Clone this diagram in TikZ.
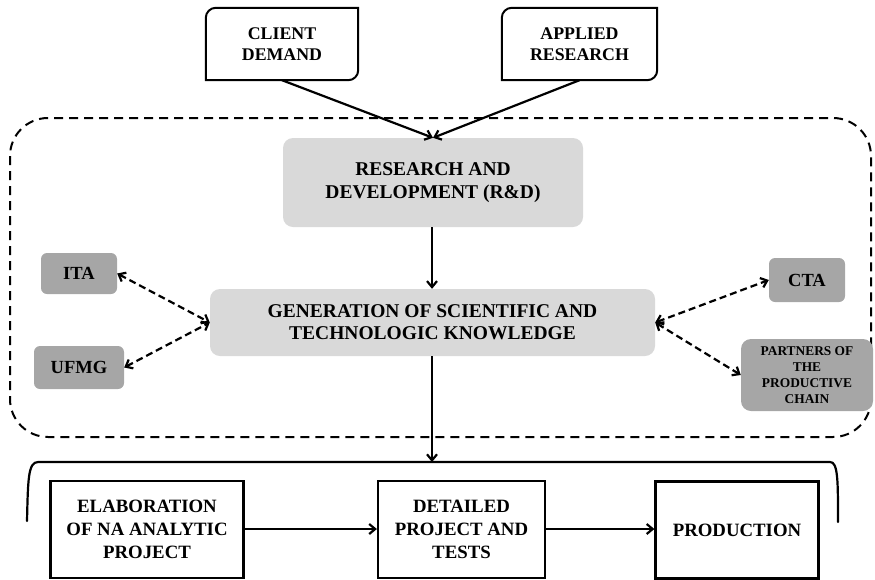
\documentclass[tikz,border=0pt]{standalone}
\usepackage{fontspec}
\setmainfont{Liberation Serif}
\usetikzlibrary{arrows.meta}
\definecolor{lightbox}{HTML}{D9D9D9}
\definecolor{darkbox}{HTML}{A6A6A6}
\begin{document}
\begin{tikzpicture}[x=1pt,y=-1pt,
  >={Straight Barb[length=6pt,width=10pt]},
  topbox/.style={minimum height=72pt,inner sep=0pt,align=center,
    font=\bfseries\fontsize{17.8}{21.5}\selectfont},
  mainbox/.style={fill=lightbox,rounded corners=10pt,inner sep=0pt,align=center,
    font=\bfseries\fontsize{19.5}{23.5}\selectfont},
  partner/.style={fill=darkbox,rounded corners=6pt,inner sep=0pt,align=center,
    font=\bfseries\fontsize{18.5}{22}\selectfont},
  stagebox/.style={draw,line width=2.2pt,fill=white,inner sep=0pt,align=center,
    minimum height=97pt,font=\bfseries\fontsize{18.8}{22.7}\selectfont},
  link/.style={line width=2.2pt,->},
  dlink/.style={line width=2.2pt,dash pattern=on 7pt off 4pt,<->},
  region/.style={line width=2pt,dash pattern=on 9pt off 6pt}]
\useasboundingbox (0,0) rectangle (875,579);

% dashed knowledge region
\draw[region,rounded corners=38pt] (10,118) rectangle (871,437);

% input boxes with two rounded corners
\node[topbox,minimum width=152pt] (client) at (282,44) {CLIENT\\DEMAND};
\node[topbox,minimum width=155pt] (applied) at (579.5,44) {APPLIED\\RESEARCH};
\foreach \b in {client,applied}{
  \draw[line width=2pt] (\b.south west) -- ([yshift=-10pt]\b.north west)
    arc[start angle=180,end angle=90,radius=10pt] -- (\b.north east)
    -- ([yshift=10pt]\b.south east)
    arc[start angle=0,end angle=-90,radius=10pt] -- cycle;
}

% central process
\node[mainbox,minimum width=300pt,minimum height=89pt] (rd) at (433,182.5)
  {RESEARCH AND\\DEVELOPMENT (R\&D)};
\node[mainbox,minimum width=445pt,minimum height=67pt,
  font=\bfseries\fontsize{19.5}{22}\selectfont] (gen) at (432.5,322.5)
  {GENERATION OF SCIENTIFIC AND\\TECHNOLOGIC KNOWLEDGE};

% partners
\node[partner,minimum width=76pt,minimum height=41pt] (ita) at (79,273.5) {ITA};
\node[partner,minimum width=90pt,minimum height=43pt] (ufmg) at (79,367.5) {UFMG};
\node[partner,minimum width=76pt,minimum height=44pt] (cta) at (807,280) {CTA};
\node[partner,minimum width=132pt,minimum height=72pt,rounded corners=10pt,
  font=\bfseries\fontsize{13.4}{16}\selectfont] (pc) at (807,375)
  {PARTNERS OF\\THE\\PRODUCTIVE\\CHAIN};

% stages
\node[stagebox,minimum width=193pt] (elab) at (147,529.5)
  {ELABORATION\\OF NA ANALYTIC\\PROJECT};
\node[stagebox,minimum width=167pt] (det) at (461.5,529.5)
  {DETAILED\\PROJECT AND\\TESTS};
\node[stagebox,minimum width=163pt] (prod) at (737,530)
  {PRODUCTION};

% brace over the stages
\coordinate (bl) at (27,521);
\coordinate (br) at (838,522);
\coordinate (btop) at (432,462);
\draw[line width=2.2pt,line cap=round] (bl) .. controls (28,480) and (28,462) .. (38,462)
  -- (830,462) .. controls (838,462) and (838,480) .. (br);

% connectors
\draw[link] (client.south) -- (rd.north);
\draw[link] (applied.south) -- (rd.north);
\draw[link] (rd.south -| 432,0) -- (gen.north -| 432,0);
\draw[link] (gen.south -| 432,0) -- (btop);
\draw[dlink] (ita.east) -- (gen.west);
\draw[dlink] (ufmg.east) -- (gen.west);
\draw[dlink] (gen.east) -- (cta.west);
\draw[dlink] (gen.east) -- (pc.west);
\draw[link] (elab.east |- 0,529) -- (det.west |- 0,529);
\draw[link] (det.east |- 0,529) -- (prod.west |- 0,529);
\end{tikzpicture}
\end{document}
